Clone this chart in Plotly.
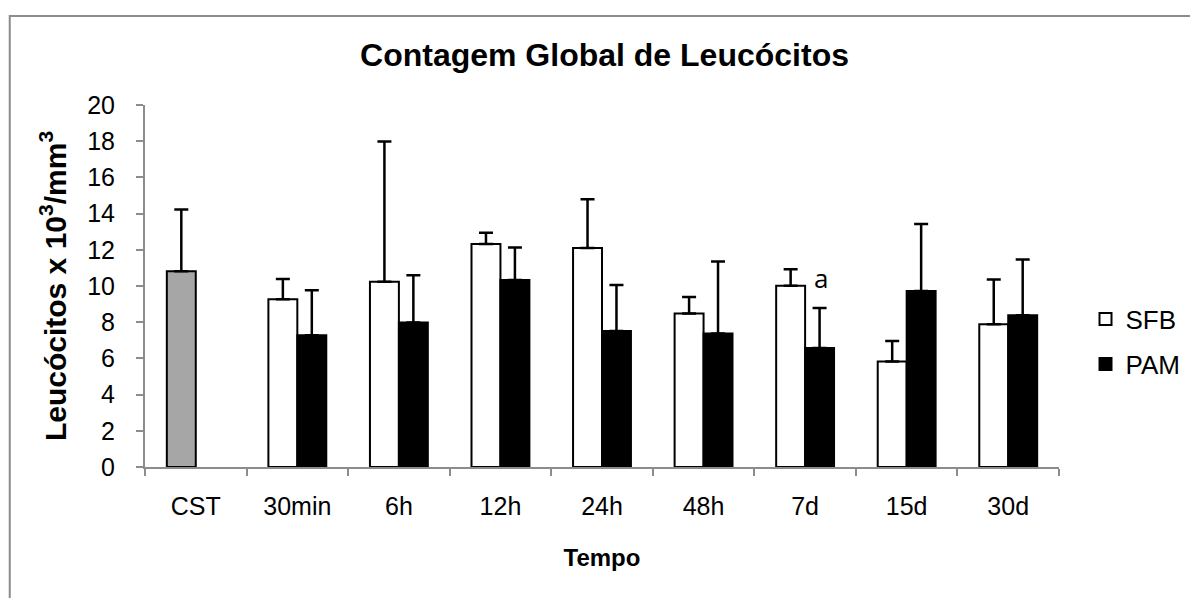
import plotly.graph_objects as go

# Leucocyte counts
tempos = ["30min", "6h", "12h", "24h", "48h", "7d", "15d", "30d"]
categorias = ["CST"] + tempos

cst_val = [10.82]
cst_err = [3.41]

sfb_val = [9.27, 10.23, 12.32, 12.10, 8.48, 10.01, 5.83, 7.88]
sfb_err = [1.11, 7.75, 0.62, 2.69, 0.91, 0.92, 1.13, 2.48]

pam_val = [7.28, 7.99, 10.33, 7.52, 7.38, 6.58, 9.73, 8.39]
pam_err = [2.49, 2.61, 1.80, 2.53, 3.98, 2.21, 3.69, 3.07]

fonte = "Liberation Sans, Arial, sans-serif"
cinza = "#8c8c8c"


def err(vals):
    return dict(type="data", array=vals, arrayminus=[0] * len(vals), symmetric=False,
                color="black", thickness=2.5, width=7)


fig = go.Figure()

# grey control bar shares the SFB slot
fig.add_trace(go.Bar(x=["CST"], y=cst_val, name="CST", offsetgroup="a", showlegend=False,
                     marker=dict(color="#a6a6a6", line=dict(color="black", width=2)),
                     error_y=err(cst_err)))
fig.add_trace(go.Bar(x=tempos, y=sfb_val, name="SFB", offsetgroup="a", legend="legend",
                     marker=dict(color="white", line=dict(color="black", width=2)),
                     error_y=err(sfb_err)))
fig.add_trace(go.Bar(x=tempos, y=pam_val, name="PAM", offsetgroup="b", legend="legend2",
                     marker=dict(color="black", line=dict(color="black", width=2)),
                     error_y=err(pam_err)))

# significance letter next to 7d
fig.add_annotation(x="7d", y=sfb_val[5], text="a", showarrow=False, xshift=16, yshift=-12,
                   yanchor="bottom", font=dict(family="Open Sans, sans-serif", size=26, color="black"))

# the page body adds an 8px offset, so the figure is 8px smaller on each side
W, H = 1190, 590
ml, mr, mt, mb = 137, 134, 97, 131
pw, ph = W - ml - mr, H - mt - mb

# Excel-style chart frame, cropped at right and bottom
fx = (1 - ml) / pw
fy = (H - mb - 8) / ph
fig.add_shape(type="path", xref="paper", yref="paper",
              path=f"M {fx} -0.6 L {fx} {fy} L 1.3 {fy}",
              line=dict(color=cinza, width=2))

leg = dict(x=1.029, xanchor="left", yanchor="middle", font=dict(size=26), itemwidth=30,
           bgcolor="rgba(0,0,0,0)")

fig.update_layout(
    width=W, height=H,
    margin=dict(l=ml, r=mr, t=mt, b=mb),
    paper_bgcolor="white", plot_bgcolor="white",
    barmode="group", bargap=0.43, bargroupgap=0,
    font=dict(family=fonte, size=25, color="black"),
    title=dict(text="<b>Contagem Global de Leucócitos</b>", x=(ml + pw / 2) / W, xanchor="center",
               yref="container", y=1 - 47 / H, yanchor="middle", font=dict(size=32)),
    legend=dict(leg, y=(H - mb - 311) / ph),
    legend2=dict(leg, y=(H - mb - 356) / ph),
    showlegend=True,
)

fig.update_xaxes(categoryorder="array", categoryarray=categorias,
                 showline=True, linecolor=cinza, linewidth=2,
                 ticks="outside", tickson="boundaries", ticklen=7, tickcolor=cinza, tickwidth=2,
                 ticklabelstandoff=16,
                 title=dict(text="<b>Tempo</b>", standoff=30, font=dict(size=24)),
                 showgrid=False)
fig.update_yaxes(range=[0, 20], dtick=2, showline=True, linecolor=cinza, linewidth=2,
                 ticks="outside", ticklen=7, tickcolor=cinza, tickwidth=2,
                 ticklabelstandoff=16,
                 title=dict(text="<b>Leucócitos x 10<sup>3</sup>/mm<sup>3</sup></b>", standoff=12,
                            font=dict(size=30)),
                 showgrid=False, zeroline=False)

fig.write_html("out.html")
